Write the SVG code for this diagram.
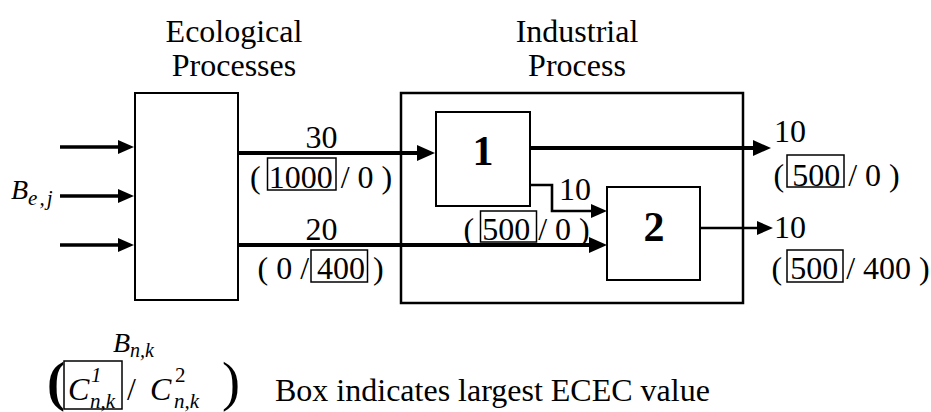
<svg xmlns="http://www.w3.org/2000/svg" width="931" height="412" viewBox="0 0 931 412">
<style>
text{font-family:"Liberation Serif","Times New Roman",serif;font-size:32px;fill:#000}
.it{font-style:italic}
.bd{font-weight:bold}
.box{fill:#fff;stroke:#000;stroke-width:2}
.hl{fill:none;stroke:#000;stroke-width:1.5}
.thick{fill:none;stroke:#000;stroke-width:4}
.mid{fill:none;stroke:#000;stroke-width:3.4}
.thin{fill:none;stroke:#000;stroke-width:2.6}
</style>
<defs>
<marker id="ahL" viewBox="0 0 18 16" markerWidth="18" markerHeight="16" refX="0" refY="8" orient="auto" markerUnits="userSpaceOnUse"><path d="M0,0 L18,8 L0,16 Z" fill="#000"/></marker>
<marker id="ahS" viewBox="0 0 16 14" markerWidth="16" markerHeight="14" refX="0" refY="7" orient="auto" markerUnits="userSpaceOnUse"><path d="M0,0 L16,7 L0,14 Z" fill="#000"/></marker>
</defs>
<g id="ecological">
<rect class="box" x="135" y="93" width="103" height="207"/>
<text x="234" y="42" text-anchor="middle">Ecological</text>
<text x="234" y="76" text-anchor="middle">Processes</text>
</g>
<g id="industrial">
<rect class="box" x="401" y="93" width="342" height="210" style="stroke-width:2.5"/>
<text x="577" y="42" text-anchor="middle">Industrial</text>
<text x="577" y="76" text-anchor="middle">Process</text>
</g>
<g id="process1">
<rect class="box" x="436" y="112" width="94" height="94"/>
<text class="bd" x="483" y="165" text-anchor="middle" style="font-size:42px">1</text>
</g>
<g id="process2">
<rect class="box" x="607" y="187" width="93" height="93"/>
<text class="bd" x="654" y="241" text-anchor="middle" style="font-size:42px">2</text>
</g>
<g id="connectors">
<path class="mid" d="M60,147 H118" marker-end="url(#ahS)"/>
<path class="mid" d="M60,196 H118" marker-end="url(#ahS)"/>
<path class="mid" d="M60,245 H118" marker-end="url(#ahS)"/>
<path class="thick" d="M238,153 H417" marker-end="url(#ahL)"/>
<path class="thick" d="M238,245 H589" marker-end="url(#ahL)"/>
<path class="thick" d="M530,148 H753" marker-end="url(#ahL)"/>
<path class="thin" d="M530,185 H552 V211 H591" marker-end="url(#ahS)"/>
<path class="thin" d="M700,228 H757" marker-end="url(#ahS)"/>
</g>
<g id="inputs-label">
<text class="it" x="11" y="199" style="font-size:28px">B<tspan dy="6" style="font-size:21px;letter-spacing:2px">e,j</tspan></text>
</g>
<g id="flow-labels">
<text x="321.5" y="148" text-anchor="middle">30</text>
<text x="250" y="188">( 1000 / 0 )</text>
<rect class="hl" x="267.5" y="158" width="68.5" height="32"/>
<text x="321.5" y="240" text-anchor="middle">20</text>
<text x="257.5" y="278.5">( 0 / 400 )</text>
<rect class="hl" x="311" y="250" width="56.5" height="32"/>
<text x="559" y="200">10</text>
<text x="463.5" y="239.5">( 500 / 0 )</text>
<rect class="hl" x="480.5" y="211" width="56" height="31"/>
<text x="774" y="142">10</text>
<text x="773.5" y="186">( 500 / 0 )</text>
<rect class="hl" x="787" y="155" width="57" height="32"/>
<text x="774" y="238">10</text>
<text x="771.5" y="278.5">( 500 / 400 )</text>
<rect class="hl" x="787" y="250" width="56" height="32"/>
</g>
<g id="legend">
<text class="it" x="113" y="352" style="font-size:28px">B<tspan dy="5" style="font-size:20px">n,k</tspan></text>
<text class="bd" x="47" y="400" style="font-size:54px">(</text>
<rect class="hl" x="64" y="361" width="58" height="48"/>
<text class="it" x="68" y="400">C</text>
<text class="it" x="91" y="382" style="font-size:21px">1</text>
<text class="it" x="90" y="408" style="font-size:21px">n,k</text>
<text x="127" y="400">/</text>
<text class="it" x="150" y="400">C</text>
<text x="175" y="382" style="font-size:21px">2</text>
<text class="it" x="174" y="408" style="font-size:21px">n,k</text>
<text x="222" y="400" style="font-size:54px">)</text>
<text x="275" y="401">Box indicates largest ECEC value</text>
</g>
</svg>
